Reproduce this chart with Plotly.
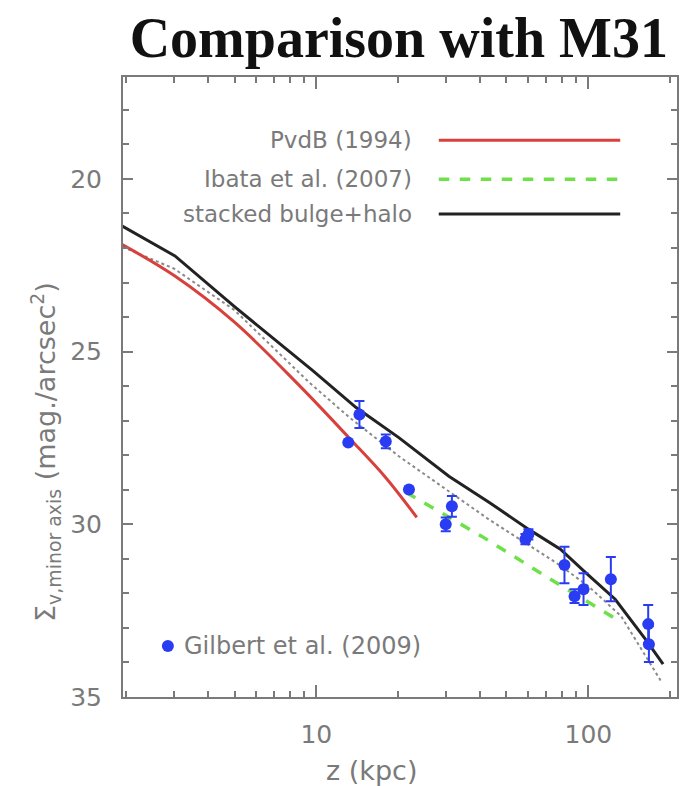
import plotly.graph_objects as go

# ---- data ----
pvdb_z = [1.93, 3.0, 5.0, 8.7, 13.2, 18.0, 23.4]
pvdb_mu = [21.9, 22.8, 24.15, 26.0, 27.5, 28.65, 29.8]

stack_z = [1.93, 3.02, 5.0, 9.7, 14.0, 20.1, 30.7, 43.1, 60.2, 78.9, 97.5, 125.5, 161.8, 188.3]
stack_mu = [21.36, 22.23, 23.70, 25.55, 26.62, 27.49, 28.61, 29.36, 30.14, 30.72, 31.39, 32.17, 33.32, 34.05]

dot_z = [1.94, 3.0, 5.0, 9.43, 13.2, 20.1, 43.1, 75.7, 100.0, 132.0, 185.0]
dot_mu = [21.97, 22.6, 23.8, 25.9, 26.9, 28.03, 29.86, 31.10, 31.79, 32.66, 34.54]

ibata_z = [21.4, 40.6, 75.7, 132.0]
ibata_mu = [29.08, 30.35, 31.68, 32.83]

gil_z = [13.1, 14.4, 18.0, 21.9, 31.5, 29.9, 58.7, 60.2, 81.7, 89.0, 96.0, 121.0, 166.0, 167.0]
gil_mu = [27.63, 26.82, 27.6, 28.99, 29.48, 30.0, 30.43, 30.29, 31.18, 32.08, 31.88, 31.59, 32.89, 33.47]
gil_err = [0.0, 0.39, 0.2, 0.0, 0.3, 0.2, 0.15, 0.15, 0.53, 0.2, 0.46, 0.64, 0.55, 0.52]

x_major = [10, 100]
x_minor = [2, 3, 4, 5, 6, 7, 8, 9, 20, 30, 40, 50, 60, 70, 80, 90, 200]
y_major = [20, 25, 30, 35]
y_minor = [18, 19, 21, 22, 23, 24, 26, 27, 28, 29, 31, 32, 33, 34]

legend_labels = ["PvdB (1994)", "Ibata et al. (2007)", "stacked bulge+halo"]

RED = "#d8413b"
GREEN = "#6ee04a"
BLACK = "#222222"
BLUE = "#2a3cf2"
GRAY = "#7a7a7a"
FONT = "DejaVu Sans"

fig = go.Figure()
fig.add_trace(go.Scatter(x=dot_z, y=dot_mu, mode="lines",
                         line=dict(color="#8a8a8a", width=2, dash="dot"), showlegend=False))
fig.add_trace(go.Scatter(x=pvdb_z, y=pvdb_mu, mode="lines", line_shape="spline",
                         line=dict(color=RED, width=3), showlegend=False))
fig.add_trace(go.Scatter(x=ibata_z, y=ibata_mu, mode="lines",
                         line=dict(color=GREEN, width=3.5, dash="dash"), showlegend=False))
fig.add_trace(go.Scatter(x=stack_z, y=stack_mu, mode="lines",
                         line=dict(color=BLACK, width=3), showlegend=False))
fig.add_trace(go.Scatter(x=gil_z, y=gil_mu, mode="markers",
                         marker=dict(color=BLUE, size=12),
                         error_y=dict(type="data", array=gil_err, color=BLUE, thickness=2, width=5),
                         showlegend=False))

# legend (drawn manually, right-aligned text with sample lines)
leg_y = [0.898, 0.835, 0.779]
leg_style = [dict(color=RED, width=3), dict(color=GREEN, width=3.5, dash="dash"), dict(color=BLACK, width=3)]
for lab, yy, st in zip(legend_labels, leg_y, leg_style):
    fig.add_annotation(x=0.525, y=yy, xref="paper", yref="paper", text=lab, showarrow=False,
                       xanchor="right", yanchor="middle", font=dict(family=FONT, size=23, color=GRAY))
    fig.add_shape(type="line", xref="paper", yref="paper", x0=0.570, x1=0.8975, y0=yy, y1=yy, line=st)

fig.add_shape(type="circle", xref="paper", yref="paper", xsizemode="pixel", ysizemode="pixel",
              xanchor=0.081, yanchor=0.0823, x0=-6, x1=6, y0=-6, y1=6,
              fillcolor=BLUE, line=dict(color=BLUE, width=0))
fig.add_annotation(x=0.106, y=0.0823, xref="paper", yref="paper", text="Gilbert et al. (2009)",
                   showarrow=False, xanchor="left", yanchor="middle",
                   font=dict(family=FONT, size=24, color=GRAY))

# axis titles
fig.add_annotation(xref="paper", yref="paper", x=-0.141, y=0.395, textangle=-90, showarrow=False,
                   xanchor="center", yanchor="middle",
                   text="Σ<sub>v,minor axis</sub> (mag./arcsec<sup>2</sup>)",
                   font=dict(family=FONT, size=27, color=GRAY))
fig.add_annotation(xref="paper", yref="paper", x=0.448, y=-0.118, showarrow=False,
                   xanchor="center", yanchor="middle", text="z (kpc)",
                   font=dict(family=FONT, size=27, color=GRAY))

fig.update_xaxes(type="log", range=[0.289, 2.326],
                 tickmode="array", tickvals=x_major, ticktext=[str(v) for v in x_major],
                 ticks="inside", ticklen=12, tickwidth=1.5, tickcolor=GRAY,
                 minor=dict(tickmode="array", tickvals=x_minor, ticks="inside", ticklen=6,
                            tickwidth=1.5, tickcolor=GRAY, showgrid=False),
                 showline=True, linecolor=GRAY, linewidth=2, mirror="allticks",
                 showgrid=False, zeroline=False, ticklabelstandoff=14,
                 tickfont=dict(family=FONT, size=25, color=GRAY))
fig.update_yaxes(range=[35, 17.05], tickmode="array", tickvals=y_major,
                 ticks="inside", ticklen=10, tickwidth=1.5, tickcolor=GRAY,
                 minor=dict(tickmode="array", tickvals=y_minor, ticks="inside", ticklen=6,
                            tickwidth=1.5, tickcolor=GRAY, showgrid=False),
                 showline=True, linecolor=GRAY, linewidth=2, mirror="allticks",
                 showgrid=False, zeroline=False, ticklabelstandoff=14,
                 tickfont=dict(family=FONT, size=25, color=GRAY))

fig.update_layout(
    width=684, height=786,
    margin=dict(l=123, r=5, t=77, b=89),
    paper_bgcolor="white", plot_bgcolor="white",
    title=dict(text="<b>Comparison with M31</b>", x=0.583, xanchor="center", y=0.952, yanchor="middle",
               font=dict(family="Liberation Serif", size=56, color="#111111")),
    showlegend=False,
)

fig.write_html("out.html")
